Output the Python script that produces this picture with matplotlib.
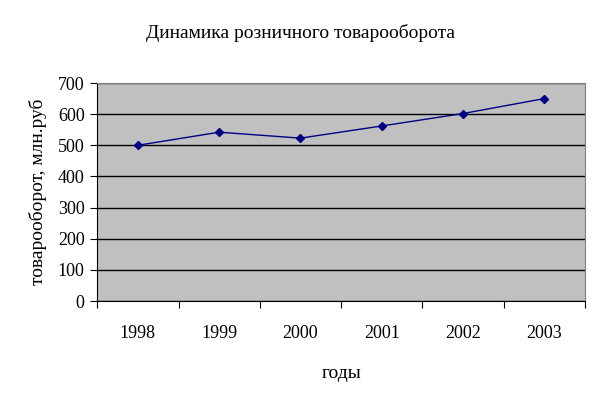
import matplotlib
matplotlib.use('Agg')
import matplotlib.pyplot as plt
import numpy as np

years = ['1998', '1999', '2000', '2001', '2002', '2003']
turnover = [500, 542, 523, 562, 602, 650]

plt.rcParams['font.family'] = ['Liberation Serif', 'DejaVu Serif']

fig = plt.figure(figsize=(6, 4), dpi=100)
ax = fig.add_axes([0.162, 0.2475, 0.813, 0.545])

x = np.arange(len(years))
ax.set_facecolor('#c0c0c0')
ax.plot(x, turnover, color='#000080', lw=1, marker='D', ms=4.5, zorder=3)

ax.set_xlim(-0.5, len(years) - 0.5)
ax.set_ylim(0, 700)
ax.set_yticks(range(0, 701, 100))
ax.yaxis.grid(True, color='black', lw=1)
ax.set_axisbelow(True)

# ticks between categories, labels in the middle
ax.set_xticks(np.arange(-0.5, len(years), 1))
ax.set_xticklabels([])
ax.set_xticks(x, minor=True)
ax.set_xticklabels(years, minor=True)
ax.tick_params(axis='x', which='minor', length=0, pad=17, labelsize=13)
ax.tick_params(axis='x', which='major', length=5, direction='out')
ax.tick_params(axis='y', length=5, direction='out', labelsize=13, pad=4)

for s in ['top', 'right']:
    ax.spines[s].set_color('#808080')
ax.spines['left'].set_color('black')
ax.spines['bottom'].set_color('black')

fig.text(0.5, 0.918, 'Динамика розничного товарооборота', ha='center', va='center', fontsize=14)
ax.set_xlabel('годы', fontsize=14, labelpad=17)
ax.set_ylabel('товарооборот, млн.руб', fontsize=14, labelpad=8)

fig.savefig('out.png', dpi=100)
